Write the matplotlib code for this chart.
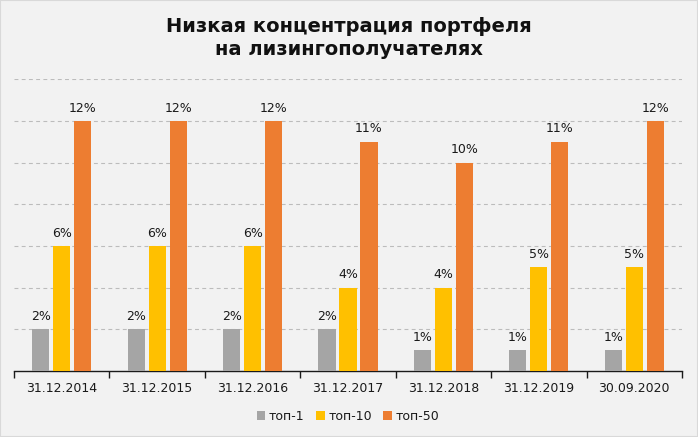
import matplotlib
matplotlib.use("Agg")
import matplotlib.pyplot as plt
import numpy as np

categories = ["31.12.2014", "31.12.2015", "31.12.2016", "31.12.2017", "31.12.2018", "31.12.2019", "30.09.2020"]
series_names = ["топ-1", "топ-10", "топ-50"]
top1 = [2, 2, 2, 2, 1, 1, 1]
top10 = [6, 6, 6, 4, 4, 5, 5]
top50 = [12, 12, 12, 11, 10, 11, 12]
colors = ["#a5a5a5", "#ffc000", "#ed7d31"]
title = "Низкая концентрация портфеля\nна лизингополучателях"

plt.rcParams['font.family'] = ['DejaVu Sans']
fig = plt.figure(figsize=(6.98, 4.37), dpi=100, facecolor="#f2f2f2")
ax = fig.add_axes([0.0201, 0.151, 0.957, 0.668])
ax.set_facecolor("#f2f2f2")

x = np.arange(len(categories))
offs = [-0.22, 0.0, 0.22]
w = 0.18
for vals, off, c, name in zip([top1, top10, top50], offs, colors, series_names):
    bars = ax.bar(x + off, vals, width=w, color=c, label=name, zorder=3)
    for b, v in zip(bars, vals):
        ax.text(b.get_x() + b.get_width() / 2, v + 0.3, f"{v}%", ha="center", va="bottom",
                fontsize=9, color="#1a1a1a", zorder=4)

ax.set_xlim(-0.5, len(categories) - 0.5)
ax.set_ylim(0, 14)
ax.set_yticks(np.arange(2, 15, 2))
ax.yaxis.grid(True, linestyle=(0, (3.5, 3)), color="#bcbcbc", linewidth=0.8, zorder=0)
ax.tick_params(axis="y", left=False, labelleft=False)
for s in ["top", "right", "left"]:
    ax.spines[s].set_visible(False)
ax.spines["bottom"].set_color("#1a1a1a")
ax.spines["bottom"].set_linewidth(1.0)

ax.set_xticks(np.arange(-0.5, len(categories), 1.0), minor=False)
ax.set_xticklabels([])
ax.tick_params(axis="x", which="major", length=5, color="#1a1a1a", width=1.0)
ax.set_xticks(x, minor=True)
ax.set_xticklabels(categories, minor=True, fontsize=9, color="#1a1a1a")
ax.tick_params(axis="x", which="minor", length=0, pad=8)

fig.text(0.5, 0.913, title, ha="center", va="center", fontsize=14, fontweight="bold",
         color="#111111", linespacing=1.3)

leg = ax.legend(loc="upper center", bbox_to_anchor=(0.5, -0.095), ncol=3, frameon=False,
                fontsize=9, handlelength=0.7, handleheight=0.7, handletextpad=0.3,
                columnspacing=0.9, labelcolor="#1a1a1a")

fig.patches.append(plt.Rectangle((0, 0), 1, 1, transform=fig.transFigure, fill=False,
                                 edgecolor="#d9d9d9", linewidth=1.5))
fig.savefig("out.png", dpi=100, facecolor=fig.get_facecolor())
